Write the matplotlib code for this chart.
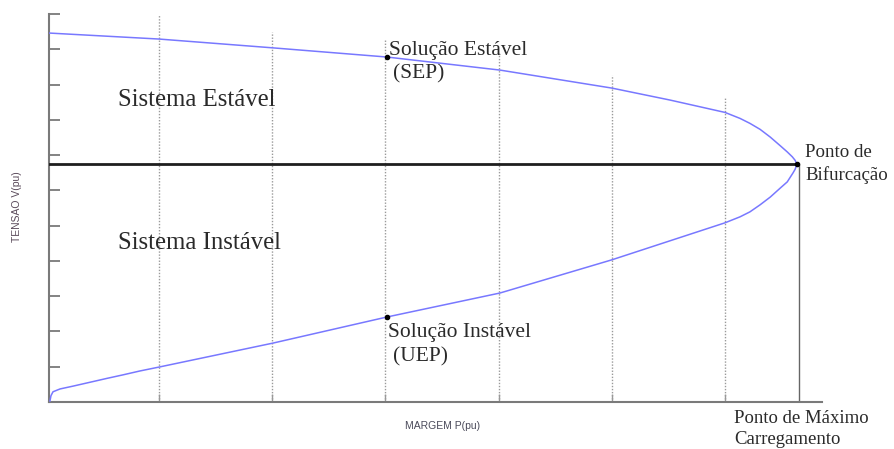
import matplotlib
matplotlib.use("Agg")
import matplotlib.pyplot as plt

# ---- data ----
upper_p = [0.029, 1.0, 2.007, 3.014, 4.0125, 5.0, 5.515, 6.0, 6.133, 6.22, 6.31, 6.40, 6.49,
           6.55, 6.595, 6.62, 6.635]
upper_v = [10.46, 10.29, 10.04, 9.78, 9.41, 8.90, 8.56, 8.21, 8.04, 7.90, 7.73, 7.51, 7.26,
           7.09, 6.95, 6.85, 6.74]
lower_p = [6.635, 6.62, 6.60, 6.55, 6.49, 6.40, 6.31, 6.22, 6.133, 6.0, 5.0, 4.0125, 3.014, 2.007,
           1.0, 0.832, 0.683, 0.541, 0.391, 0.241, 0.126, 0.064, 0.046, 0.037]
lower_v = [6.74, 6.60, 6.49, 6.24, 6.07, 5.81, 5.59, 5.39, 5.25, 5.08, 4.03, 3.09, 2.41, 1.67,
           0.99, 0.88, 0.77, 0.67, 0.56, 0.45, 0.37, 0.29, 0.18, 0.03]
grid_p = [1, 2, 3, 4, 5, 6]
grid_top = [11.0, 10.49, 10.26, 9.89, 9.27, 8.62]
bif_v = 6.74
nose_p = 6.635
max_load_p = 6.655
sep_point = (3.014, 9.78)
uep_point = (3.014, 2.41)
y_ticks = list(range(0, 12))

W, H = 894, 449
fig = plt.figure(figsize=(W / 100, H / 100), dpi=100)
L, R, B, T = 48.6, 822, 402, 14
ax = fig.add_axes([L / W, (H - B) / H, (R - L) / W, (B - T) / H])
ax.set_xlim(0.025, 6.857)
ax.set_ylim(0, 11)

spine_c = "#7a7a7a"
for s in ["top", "right"]:
    ax.spines[s].set_visible(False)
for s in ["left", "bottom"]:
    ax.spines[s].set_color(spine_c)
    ax.spines[s].set_linewidth(1.5)
ax.set_yticks(y_ticks)
ax.set_yticklabels([])
ax.set_xticks(grid_p)
ax.set_xticklabels([])
ax.tick_params(axis="y", direction="in", length=8, width=1.3, color=spine_c)
ax.tick_params(axis="x", direction="in", length=6, width=1.0, color="#999999")

# dotted vertical grid lines
for p, top in zip(grid_p, grid_top):
    ax.vlines(p, 0, top, colors="#9a9a9a", linestyles=(0, (1, 1.2)), linewidth=1.0, zorder=1)

# horizontal bifurcation level line
ax.plot([0.025, nose_p], [bif_v, bif_v], color="#1e1e1e", linewidth=2.0, zorder=3)
# vertical line at maximum loading
ax.vlines(max_load_p, 0, bif_v, colors="#666666", linewidth=1.0, zorder=2)

# PV curve
curve_c = "#7878ff"
ax.plot(upper_p, upper_v, color=curve_c, linewidth=1.1, zorder=4, solid_joinstyle="round")
ax.plot(lower_p, lower_v, color=curve_c, linewidth=1.1, zorder=4, solid_joinstyle="round")

# markers
ax.plot([sep_point[0], uep_point[0], nose_p], [sep_point[1], uep_point[1], bif_v],
        "o", color="black", markersize=3, zorder=5)

serif = ["Liberation Serif", "DejaVu Serif"]
tc = "#2a2a2a"
ax.text(0.638, 8.56, "Sistema Estável", family=serif, fontsize=17.8, color=tc, va="center", ha="left")
ax.text(0.638, 4.51, "Sistema Instável", family=serif, fontsize=17.8, color=tc, va="center", ha="left")
ax.text(3.031, 9.97, "Solução Estável", family=serif, fontsize=15.5, color=tc, va="center", ha="left")
ax.text(3.067, 9.30, "(SEP)", family=serif, fontsize=15.5, color=tc, va="center", ha="left")
ax.text(3.022, 1.96, "Solução Instável", family=serif, fontsize=15.5, color=tc, va="center", ha="left")
ax.text(3.067, 1.28, "(UEP)", family=serif, fontsize=15.5, color=tc, va="center", ha="left")
ax.text(6.707, 7.06, "Ponto de", family=serif, fontsize=13.6, color=tc, va="center", ha="left")
ax.text(6.707, 6.44, "Bifurcação", family=serif, fontsize=13.6, color=tc, va="center", ha="left")
ax.text(6.08, -0.48, "Ponto de Máximo", family=serif, fontsize=13.5, color=tc, va="center", ha="left")
ax.text(6.08, -1.05, "Carregamento", family=serif, fontsize=13.5, color=tc, va="center", ha="left")

sans = ["Liberation Sans", "DejaVu Sans"]
fig.text(17 / W, 1 - 207 / H, "TENSAO V(pu)", rotation=90, family=sans, fontsize=7.5,
         color="#5a4a5a", ha="center", va="center")
fig.text(443 / W, 1 - 426 / H, "MARGEM P(pu)", family=sans, fontsize=7.5,
         color="#4a4a5a", ha="center", va="center")

fig.savefig("out.png", dpi=100)
